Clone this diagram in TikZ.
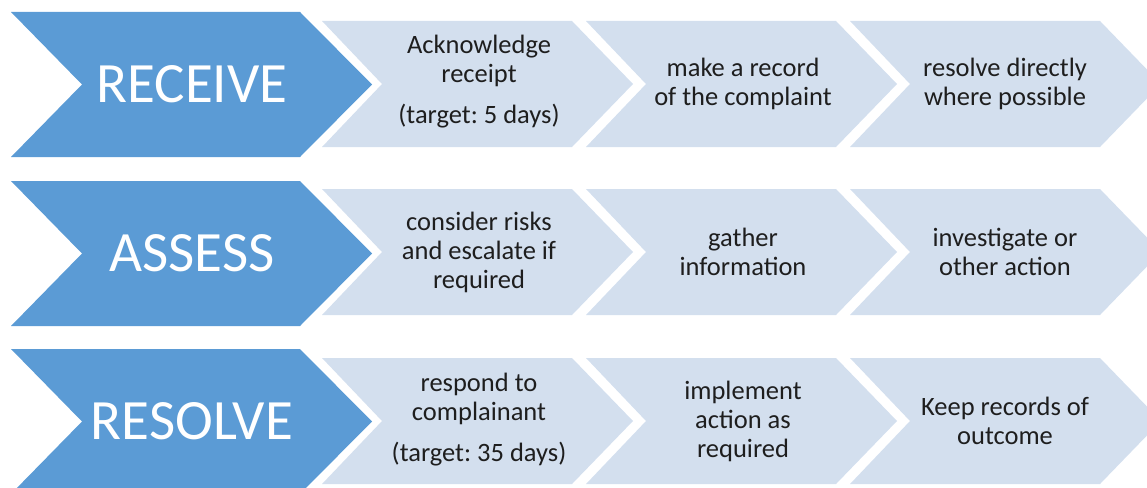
\documentclass[tikz,border=0pt]{standalone}
\usepackage{fontspec}
\setmainfont{Carlito}
\frenchspacing
\definecolor{bigblue}{HTML}{5B9BD5}
\definecolor{lightblue}{HTML}{D3DFEE}
\definecolor{txt}{HTML}{1E1E1E}
\tikzset{
  bigchev/.style={fill=bigblue},
  lightchev/.style={fill=lightblue},
  bigtext/.style={text=white, font=\fontsize{57}{60}\selectfont, inner sep=0pt},
  smalltext/.style={text=txt, font=\fontsize{26.5}{29}\selectfont, align=center, inner sep=0pt}
}
\newcommand{\mybig}[1]{\fill[bigchev] (11,#1) -- ++(289,0) -- ++(72,72.5) -- ++(-72,72.5) -- ++(-289,0) -- ++(71,-72.5) -- cycle;}
\newcommand{\mylight}[2]{\fill[lightchev] (#1,#2) -- ++(250,0) -- ++(61,63) -- ++(-61,63) -- ++(-250,0) -- ++(60,-63) -- cycle;}
\begin{document}
\begin{tikzpicture}[x=1pt,y=-1pt]
\useasboundingbox (0,0) rectangle (1147,487);
\begin{scope}
\clip (0,0) rectangle (1147,487);
% row 1
\mybig{12}
\mylight{322}{21}\mylight{586}{21}\mylight{850}{21}
% row 2
\mybig{181}
\mylight{322}{189}\mylight{586}{189}\mylight{850}{189}
% row 3
\mybig{349}
\mylight{322}{358}\mylight{586}{358}\mylight{850}{358}
\end{scope}
% texts
\node[bigtext] (receive) at (192,84.5) {RECEIVE};
\node[bigtext] (assess) at (192,253.5) {ASSESS};
\node[bigtext] (resolve) at (192,421.5) {RESOLVE};

\node[smalltext] (r1a) at (479,82) {Acknowledge\\receipt\\[12pt](target: 5 days)};
\node[smalltext] (r1b) at (743,84) {make a record\\of the complaint};
\node[smalltext] (r1c) at (1005,84) {resolve directly\\where possible};

\node[smalltext] (r2a) at (479,252) {consider risks\\and escalate if\\required};
\node[smalltext] (r2b) at (743,252) {gather\\information};
\node[smalltext] (r2c) at (1005,252) {investigate or\\other action};

\node[smalltext] (r3a) at (479,420) {respond to\\complainant\\[12pt](target: 35 days)};
\node[smalltext] (r3b) at (743,421) {implement\\action as\\required};
\node[smalltext] (r3c) at (1005,421) {Keep records of\\outcome};
\end{tikzpicture}
\end{document}
